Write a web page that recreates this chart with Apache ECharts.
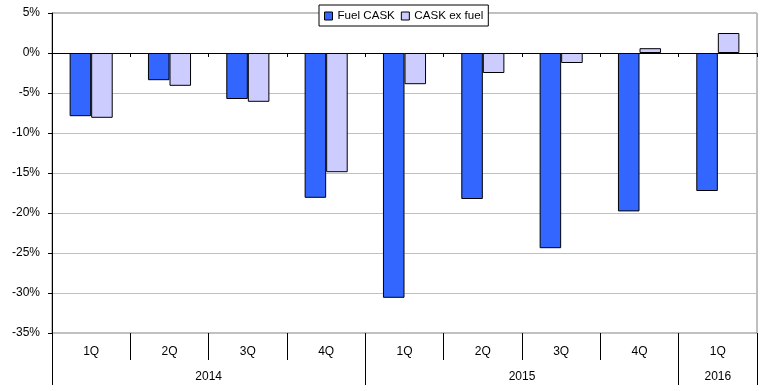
<!DOCTYPE html>
<html>
<head>
<meta charset="utf-8">
<script src="https://cdn.jsdelivr.net/npm/echarts@6/dist/echarts.min.js"></script>
<style>html,body{margin:0;padding:0;background:#fff}#c{width:770px;height:391px}</style>
</head>
<body>
<div id="c"></div>
<script>
const quarters = ['1Q','2Q','3Q','4Q','1Q','2Q','3Q','4Q','1Q'];
const fuelCask = [-7.9, -3.4, -5.75, -18.1, -30.6, -18.25, -24.4, -19.8, -17.25];
const caskExFuel = [-8.1, -4.1, -6.1, -14.9, -3.9, -2.5, -1.25, 0.6, 2.5];
const years = ['2014', '2015', '2016'];
const yearCenters = [2, 6, 8.5];
const yearBounds = [0, 4, 8, 9];
const yTicks = {min: -35, max: 5, step: 5};

const font = 'Liberation Sans, Arial, sans-serif';
const chart = echarts.init(document.getElementById('c'));
chart.setOption({
  animation: false,
  backgroundColor: '#fff',
  textStyle: {fontFamily: font},
  legend: {
    left: 319, top: 5,
    padding: [5, 5, 4, 5],
    backgroundColor: '#fff',
    borderColor: '#000', borderWidth: 1,
    itemWidth: 8, itemHeight: 8, itemGap: 6,
    icon: 'rect',
    itemStyle: {borderColor: '#000', borderWidth: 1},
    textStyle: {fontFamily: font, fontSize: 11.6, color: '#000'},
    data: ['Fuel CASK', 'CASK ex fuel']
  },
  grid: {
    left: 52, top: 13, width: 705, height: 320,
    show: true, borderColor: '#808080', borderWidth: 1, containLabel: false
  },
  xAxis: [
    {
      type: 'category', data: quarters, position: 'bottom',
      axisLine: {onZero: true, lineStyle: {color: '#000', width: 1}},
      axisTick: {show: true, alignWithLabel: false, length: 4, lineStyle: {color: '#000'}},
      axisLabel: {show: false},
      splitLine: {show: false}
    },
    {
      type: 'category', data: quarters, position: 'bottom',
      axisLine: {show: false, onZero: false},
      axisTick: {show: true, length: 27, lineStyle: {color: '#000'}},
      axisLabel: {show: true, margin: 13, fontSize: 12, color: '#000', fontFamily: font},
      splitLine: {show: false}
    },
    {
      type: 'value', min: 0, max: 9, position: 'bottom',
      axisLine: {show: false, onZero: false},
      axisTick: {show: true, length: 52, lineStyle: {color: '#000'}, customValues: yearBounds},
      axisLabel: {
        show: true, margin: 38, fontSize: 12, color: '#000', fontFamily: font,
        customValues: yearCenters,
        formatter: function (v) { const i = yearCenters.indexOf(v); return i >= 0 ? years[i] : ''; }
      },
      splitLine: {show: false}
    }
  ],
  yAxis: {
    type: 'value', min: yTicks.min, max: yTicks.max, interval: yTicks.step,
    axisLine: {show: true, lineStyle: {color: '#000'}},
    axisTick: {show: true, length: 4, lineStyle: {color: '#000'}},
    axisLabel: {formatter: '{value}%', fontSize: 12, color: '#000', margin: 12, fontFamily: font},
    splitLine: {show: true, lineStyle: {color: '#c0c0c0', width: 1}}
  },
  series: [
    {
      name: 'Fuel CASK', type: 'bar', xAxisIndex: 0, data: fuelCask,
      barGap: '0%', barCategoryGap: '45%',
      itemStyle: {color: '#3366ff', borderColor: '#000', borderWidth: 1}
    },
    {
      name: 'CASK ex fuel', type: 'bar', xAxisIndex: 0, data: caskExFuel,
      barGap: '0%', barCategoryGap: '45%',
      itemStyle: {color: '#ccccff', borderColor: '#000', borderWidth: 1}
    }
  ]
});
</script>
</body>
</html>
